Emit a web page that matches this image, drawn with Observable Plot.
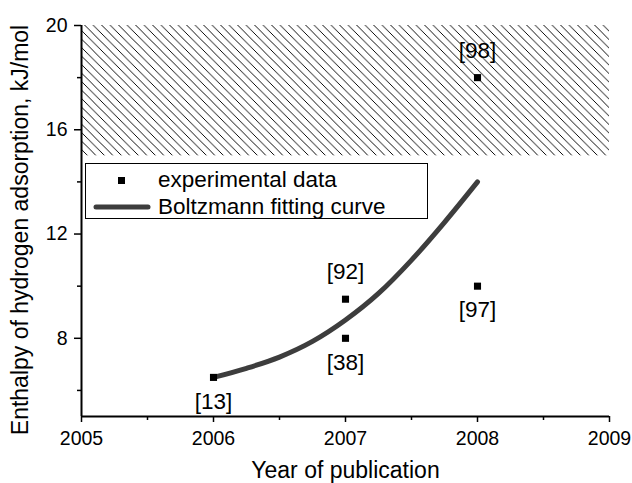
<!DOCTYPE html>
<html>
<head>
<meta charset="utf-8">
<script src="https://cdn.jsdelivr.net/npm/d3@7"></script>
<script src="https://cdn.jsdelivr.net/npm/@observablehq/plot@0.6"></script>
<style>
  html, body { margin: 0; padding: 0; background: white; }
  #wrap { position: relative; width: 632px; height: 483px; font-family: "Liberation Sans", Arial, sans-serif; }
  g[aria-label$="axis label"] { font-size: 23px; }
  #legend { position: absolute; left: 85px; top: 163px; width: 343px; height: 56px; border: 1.3px solid black; background: white; box-sizing: border-box; }
  #legend .row { position: absolute; left: 0; height: 26px; width: 100%; }
  #legend .txt { position: absolute; left: 72px; font-size: 22.5px; line-height: 26px; color: black; white-space: nowrap; }
  #legend svg { position: absolute; left: 0; top: 0; }
</style>
</head>
<body>
<div id="wrap"></div>
<script>
// ---- data ----
const years = [2006, 2007, 2007, 2008, 2008];
const enthalpy = [6.5, 8.0, 9.5, 10.0, 18.0];
const refs = ["[13]", "[38]", "[92]", "[97]", "[98]"];

const fitYears = [2006, 2006.25, 2006.5, 2006.75, 2007, 2007.25, 2007.5, 2007.75, 2008];
const fitValues = [6.5, 6.85, 7.28, 7.88, 8.7, 9.72, 11.0, 12.45, 14.0];

const zoneYears = [2005, 2009];
const zoneValues = [15, 20];

const xTicks = [2005, 2006, 2007, 2008, 2009];
const xMinor = [2005.5, 2006.5, 2007.5, 2008.5];
const yTicks = [8, 12, 16, 20];
const yMinor = [6, 10, 14, 18];

const legendLabels = ["experimental data", "Boltzmann fitting curve"];
const xTitle = "Year of publication";
const yTitle = "Enthalpy of hydrogen adsorption, kJ/mol";

// ---- build ----
const points = years.map((x, i) => ({x, y: enthalpy[i], ref: refs[i]}));
const fit = fitYears.map((x, i) => ({x, y: fitValues[i]}));
const zone = [{x1: zoneYears[0], x2: zoneYears[1], y1: zoneValues[0], y2: zoneValues[1]}];
const labelAbove = new Set(["[92]", "[98]"]);
const curveColor = "#3d3d3d";

const chart = Plot.plot({
  width: 632, height: 483,
  marginLeft: 81, marginRight: 23, marginTop: 25, marginBottom: 67,
  x: {domain: [2005, 2009]},
  y: {domain: [5, 20]},
  style: {fontFamily: "'Liberation Sans', Arial, sans-serif", fontSize: "19.5px", color: "black", background: "white", overflow: "visible"},
  marks: [
    Plot.rect(zone, {x1: "x1", x2: "x2", y1: "y1", y2: "y2", fill: "url(#hatch)"}),
    Plot.axisX({ticks: xTicks, tickFormat: d => String(d), tickSize: 6, tickPadding: 9, strokeWidth: 1.5,
      label: xTitle, labelAnchor: "center", labelOffset: 61, labelArrow: "none"}),
    Plot.axisX({ticks: xMinor, tickSize: 4, strokeWidth: 1.5, text: null, label: null}),
    Plot.axisY({ticks: yTicks, tickSize: 7, tickPadding: 7, strokeWidth: 1.5,
      label: yTitle, labelAnchor: "center", labelOffset: 70, labelArrow: "none"}),
    Plot.axisY({ticks: yMinor, tickSize: 4, strokeWidth: 1.5, text: null, label: null}),
    Plot.ruleY([5], {strokeWidth: 2}),
    Plot.ruleX([zoneYears[0]], {strokeWidth: 2}),
    Plot.line(fit, {x: "x", y: "y", curve: "monotone-x", stroke: curveColor, strokeWidth: 5}),
    Plot.dot(points, {x: "x", y: "y", symbol: "square", r: 4, fill: "black", stroke: null}),
    Plot.text(points.filter(d => !labelAbove.has(d.ref)), {x: "x", y: "y", text: "ref", dy: 24, fontSize: 22.5, fill: "black"}),
    Plot.text(points.filter(d => labelAbove.has(d.ref)), {x: "x", y: "y", text: "ref", dy: -27, fontSize: 22.5, fill: "black"})
  ]
});

// hatch pattern
const ns = "http://www.w3.org/2000/svg";
const defs = document.createElementNS(ns, "defs");
const pat = document.createElementNS(ns, "pattern");
const w = 8.5;
pat.setAttribute("id", "hatch");
pat.setAttribute("patternUnits", "userSpaceOnUse");
pat.setAttribute("width", w);
pat.setAttribute("height", w);
const p = document.createElementNS(ns, "path");
p.setAttribute("d", `M-1,-1L${w+1},${w+1}M-1,${w-1}L1,${w+1}M${w-1},-1L${w+1},1`);
p.setAttribute("stroke", "black");
p.setAttribute("stroke-width", "1.25");
p.setAttribute("shape-rendering", "crispEdges");
pat.appendChild(p);
defs.appendChild(pat);
chart.insertBefore(defs, chart.firstChild);

// shift y title down to match reference centring
const yl = chart.querySelector('g[aria-label="y-axis label"]');
if (yl) {
  const t = yl.getAttribute("transform") || "";
  yl.setAttribute("transform", ("translate(0,9) " + t).trim());
}

const wrap = document.getElementById("wrap");
wrap.appendChild(chart);

// legend
const lg = document.createElement("div");
lg.id = "legend";
lg.innerHTML = `
  <div class="row" style="top:3px">
    <svg width="70" height="26"><rect x="32" y="10" width="7" height="7" fill="black"/></svg>
    <span class="txt">${legendLabels[0]}</span>
  </div>
  <div class="row" style="top:30px">
    <svg width="70" height="26"><line x1="10" x2="62" y1="13" y2="13" stroke="${curveColor}" stroke-width="5" stroke-linecap="round"/></svg>
    <span class="txt">${legendLabels[1]}</span>
  </div>`;
wrap.appendChild(lg);
</script>
</body>
</html>
